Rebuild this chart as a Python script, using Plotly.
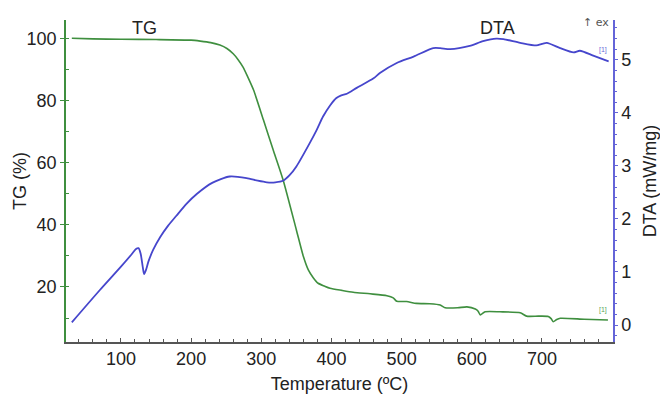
import plotly.graph_objects as go

# Thermogravimetric curve (mass %, left axis)
tg_temp = [30, 60, 100, 150, 200, 213, 228, 241, 251, 260, 267, 274, 281, 289, 303, 317, 331,
           350, 360, 367, 374, 381, 390, 398, 415, 431, 455, 479, 488, 493, 507, 521, 540, 555,
           562, 580, 593, 605, 609, 612, 619, 640, 669, 678, 695, 709, 713, 716, 721, 726, 760,
           794]
tg_mass = [100.2, 100.0, 99.9, 99.8, 99.6, 99.3, 98.8, 98.0, 96.9, 95.2, 93.3, 90.9, 87.6, 83.5,
           73.9, 64.2, 54.6, 38.4, 29.8, 25.5, 23.0, 21.2, 20.3, 19.6, 18.9, 18.3, 17.8, 17.2,
           16.5, 15.4, 15.3, 14.7, 14.6, 14.2, 13.3, 13.3, 13.6, 12.9, 12.2, 11.0, 12.0, 12.0,
           11.7, 10.6, 10.6, 10.5, 9.8, 8.8, 9.5, 9.9, 9.6, 9.35]

# Differential thermal analysis curve (mW/mg, right axis)
dta_temp = [30, 70, 100, 115, 121, 125, 128, 131, 133, 136, 139, 146, 156, 167, 179, 193, 208,
            230, 255, 279, 295, 308, 320, 331, 340, 350, 369, 379, 388, 398, 407, 414, 422, 436,
            460, 469, 493, 517, 545, 555, 569, 597, 616, 635, 645, 669, 692, 700, 707, 726, 745,
            754, 773, 795]
dta_signal = [0.05, 0.66, 1.10, 1.33, 1.43, 1.45, 1.35, 1.10, 0.96, 1.05, 1.19, 1.42, 1.66,
              1.87, 2.06, 2.28, 2.47, 2.68, 2.80, 2.77, 2.72, 2.69, 2.69, 2.72, 2.82, 2.99, 3.43,
              3.68, 3.93, 4.14, 4.28, 4.33, 4.36, 4.47, 4.65, 4.75, 4.94, 5.06, 5.22, 5.22, 5.20,
              5.26, 5.35, 5.40, 5.39, 5.32, 5.27, 5.30, 5.32, 5.22, 5.14, 5.17, 5.08, 4.97]

x_ticks = [100, 200, 300, 400, 500, 600, 700]
tg_ticks = [20, 40, 60, 80, 100]
dta_ticks = [0, 1, 2, 3, 4, 5]

GREEN = "#3f8f3f"
BLUE = "#4646cc"
FONT = "Arial, Liberation Sans, sans-serif"

fig = go.Figure()
fig.add_trace(go.Scatter(x=tg_temp, y=tg_mass, mode="lines", name="TG",
                         line=dict(color=GREEN, width=1.6, shape="spline", smoothing=0.6),
                         yaxis="y"))
fig.add_trace(go.Scatter(x=dta_temp, y=dta_signal, mode="lines", name="DTA",
                         line=dict(color=BLUE, width=1.8, shape="spline", smoothing=0.7),
                         yaxis="y2"))

fig.update_layout(
    width=660, height=395,
    margin=dict(l=66, r=47, t=20, b=53, autoexpand=False),
    plot_bgcolor="white", paper_bgcolor="white",
    showlegend=False,
    font=dict(family=FONT, size=18, color="#222"),
    xaxis=dict(
        range=[21.7, 801.2], tickvals=x_ticks, showline=True, linecolor="#555", linewidth=1.5,
        ticks="inside", ticklen=4, tickcolor="#555", showgrid=False, zeroline=False,
        automargin=False,
        minor=dict(dtick=20, tick0=0, ticks="inside", ticklen=3, tickcolor="#555"),
        title=dict(text="Temperature (ºC)", standoff=9, font=dict(size=18)),
    ),
    yaxis=dict(
        range=[2.26, 106.1], tickvals=tg_ticks, showline=True, linecolor=GREEN, linewidth=1.5,
        ticks="outside", ticklen=4, tickcolor=GREEN, showgrid=False, zeroline=False,
        automargin=False,
        minor=dict(dtick=10, tick0=0, ticks="inside", ticklen=3, tickcolor=GREEN),
    ),
    yaxis2=dict(
        range=[-0.32, 5.75], tickvals=dta_ticks, overlaying="y", side="right", anchor="x",
        showline=True, linecolor="#6464d8", linewidth=1.5, ticks="outside", ticklen=3,
        tickcolor="#6464d8", showgrid=False, zeroline=False, automargin=False,
        minor=dict(dtick=0.2, tick0=0, ticks="outside", ticklen=2, tickcolor="#6464d8"),
        title=dict(text="DTA (mW/mg)", standoff=14, font=dict(size=18)),
    ),
    annotations=[
        # left axis title, placed as rotated text beside the tick labels
        dict(text="TG (%)", x=-0.084, y=0.5, xref="paper", yref="paper", textangle=-90,
             xanchor="center", yanchor="middle", showarrow=False,
             font=dict(size=18, color="#222")),
        dict(text="TG", x=133, y=103.5, xref="x", yref="y", showarrow=False,
             font=dict(size=18, color="#222")),
        dict(text="DTA", x=636, y=103.5, xref="x", yref="y", showarrow=False,
             font=dict(size=18, color="#222")),
        dict(text="↑ ex", x=799, y=1, xref="x", yref="paper", xanchor="right",
             yanchor="middle", showarrow=False, yshift=-2,
             font=dict(size=11, color="#555", family="DejaVu Sans, Arial")),
        dict(text="[1]", x=787, y=5.19, xref="x", yref="y2", showarrow=False,
             font=dict(size=7, color="#6a6ad8")),
        dict(text="[1]", x=787, y=12.6, xref="x", yref="y", showarrow=False,
             font=dict(size=7, color="#5aa55a")),
    ],
)

fig.write_html("out.html")
